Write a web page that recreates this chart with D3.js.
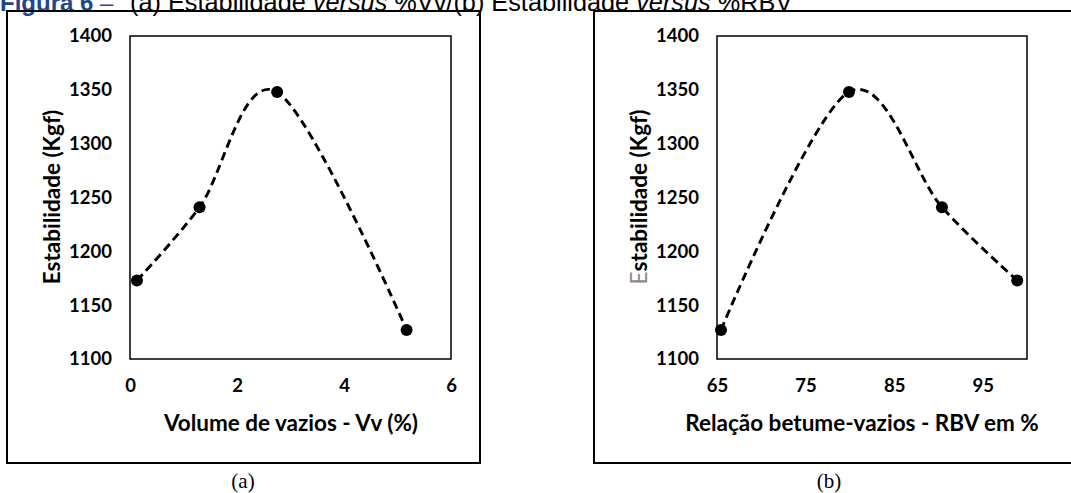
<!DOCTYPE html>
<html><head><meta charset="utf-8">
<script src="https://cdn.jsdelivr.net/npm/d3@7"></script>
<style>
html,body{margin:0;padding:0;background:#fff;overflow:hidden}
svg{display:block}
</style></head>
<body>
<svg id="c" width="1071" height="493"></svg>
<script>
// Data
const vv = [0.13, 1.3, 2.75, 5.17];
const estA = [1173, 1241, 1348, 1127];
const rbv = [65.45, 79.9, 90.4, 98.9];
const estB = [1127, 1348, 1241, 1173];
const yTicks = [1100, 1150, 1200, 1250, 1300, 1350, 1400];
const xTicksA = [0, 2, 4, 6];
const xTicksB = [65, 75, 85, 95];

const svg = d3.select("#c");
const tickFont = "Lato, 'Open Sans', sans-serif";

// Title (partially cut at top, as in the reference)
const t1 = svg.append("text").attr("x", 0).attr("y", 11)
  .attr("font-family", "'Liberation Sans', Arial, sans-serif").attr("font-size", 24);
t1.append("tspan").attr("font-weight", "bold").attr("fill", "#1F4590").text("Figura 6");
t1.append("tspan").attr("fill", "#1F4590").text(" – ");
const t2 = svg.append("text").attr("x", 130).attr("y", 11)
  .attr("font-family", "'Liberation Sans', Arial, sans-serif").attr("font-size", 25.3).attr("fill", "#000");
t2.append("tspan").text("(a) Estabilidade ");
t2.append("tspan").attr("font-style", "italic").text("versus");
t2.append("tspan").text(" %Vv/(b) Estabilidade ");
t2.append("tspan").attr("font-style", "italic").text("versus");
t2.append("tspan").text(" %RBV");

function panel(opt) {
  const g = svg.append("g");
  g.append("rect").attr("x", opt.box[0]).attr("y", opt.box[1])
    .attr("width", opt.box[2]).attr("height", opt.box[3])
    .attr("fill", "none").attr("stroke", "#000").attr("stroke-width", 2);

  const x = d3.scaleLinear().domain(opt.xDomain).range([opt.plot[0], opt.plot[1]]);
  const y = d3.scaleLinear().domain([1100, 1400]).range([opt.plot[3], opt.plot[2]]);

  const ya = g.append("g").attr("transform", `translate(${opt.plot[0]},0)`)
    .call(d3.axisLeft(y).tickValues(yTicks).tickSize(0).tickPadding(18).tickFormat(d3.format("d")));
  ya.select(".domain").remove();
  ya.selectAll("text").attr("font-family", tickFont).attr("font-weight", "bold")
    .attr("font-size", 18.5).attr("fill", "#000");

  const xa = g.append("g").attr("transform", `translate(0,${opt.plot[3]})`)
    .call(d3.axisBottom(x).tickValues(opt.xTicks).tickSize(0).tickPadding(20).tickFormat(d3.format("d")));
  xa.select(".domain").remove();
  xa.selectAll("text").attr("font-family", tickFont).attr("font-weight", "bold")
    .attr("font-size", 18.5).attr("fill", "#000");

  g.append("rect").attr("x", opt.plot[0]).attr("y", opt.plot[2])
    .attr("width", opt.plot[1] - opt.plot[0]).attr("height", opt.plot[3] - opt.plot[2])
    .attr("fill", "none").attr("stroke", "#000").attr("stroke-width", 1.5);

  const pts = opt.xs.map((d, i) => [d, opt.ys[i]]);
  const line = d3.line().x(d => x(d[0])).y(d => y(d[1])).curve(d3.curveCardinal.tension(0));
  g.append("path").attr("d", line(pts)).attr("fill", "none").attr("stroke", "#000")
    .attr("stroke-width", 2.9).attr("stroke-dasharray", "8.5,5");
  g.selectAll("circle.pt").data(pts).enter().append("circle")
    .attr("cx", d => x(d[0])).attr("cy", d => y(d[1])).attr("r", 6).attr("fill", "#000");

  g.append("text").attr("x", opt.xTitlePos[0]).attr("y", opt.xTitlePos[1])
    .attr("text-anchor", "middle").attr("dominant-baseline", "central")
    .attr("font-family", tickFont).attr("font-weight", "bold").attr("font-size", 22.5)
    .attr("fill", "#000").text(opt.xTitle);

  const yt = g.append("text")
    .attr("transform", `translate(${opt.yTitlePos[0]},${opt.yTitlePos[1]}) rotate(-90)`)
    .attr("text-anchor", "middle").attr("dominant-baseline", "central")
    .attr("font-family", tickFont).attr("font-weight", "bold").attr("font-size", 22.5)
    .attr("fill", "#000");
  if (opt.grayE) {
    yt.append("tspan").attr("fill", "#8a8a8a").attr("font-weight", "normal").text("E");
    yt.append("tspan").text("stabilidade (Kgf)");
  } else {
    yt.text("Estabilidade (Kgf)");
  }

  g.append("text").attr("x", opt.caption[0]).attr("y", opt.caption[1])
    .attr("text-anchor", "middle").attr("font-family", "'Liberation Serif', 'Times New Roman', serif")
    .attr("font-size", 21).attr("fill", "#000").text(opt.captionText);
}

panel({
  box: [7, 11, 473, 452],
  plot: [130, 451, 36, 359],
  xDomain: [0, 6], xTicks: xTicksA,
  xs: vv, ys: estA,
  xTitle: "Volume de vazios - Vv (%)", xTitlePos: [291, 422],
  yTitlePos: [51, 197],
  caption: [243, 488], captionText: "(a)"
});
panel({
  box: [594, 11, 490, 452],
  plot: [717, 1027, 36, 359],
  xDomain: [65, 100], xTicks: xTicksB,
  xs: rbv, ys: estB,
  xTitle: "Relação betume-vazios - RBV em %", xTitlePos: [862, 422],
  yTitlePos: [638, 197], grayE: true,
  caption: [829, 488], captionText: "(b)"
});
</script>
</body></html>
